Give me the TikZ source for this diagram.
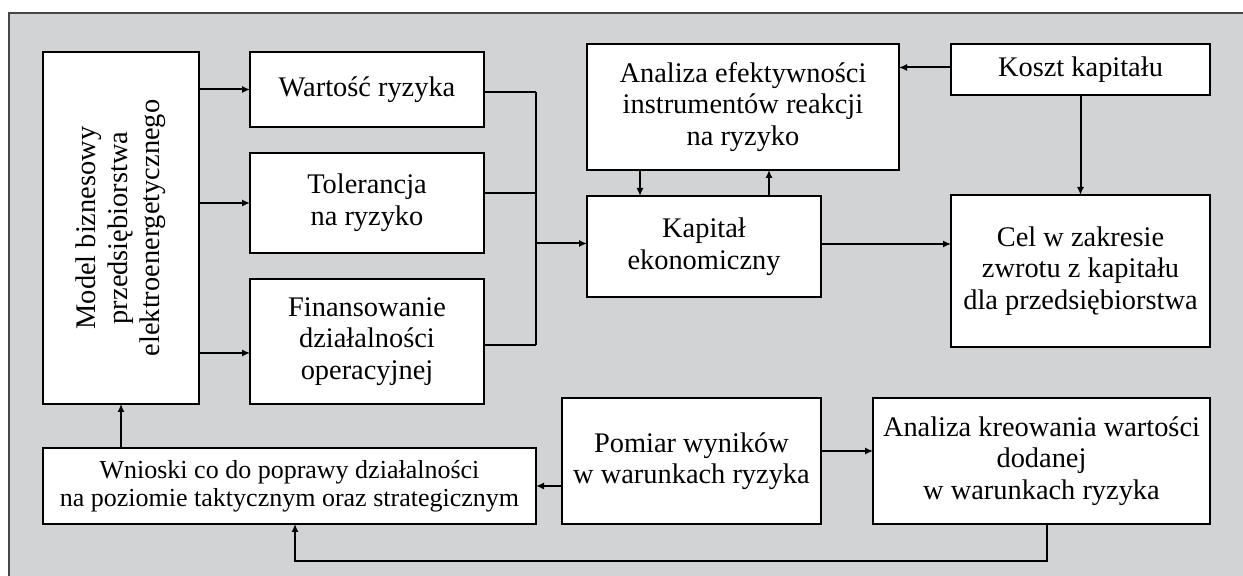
\documentclass[tikz,border=0pt]{standalone}
\usepackage{fontspec}
\setmainfont{Liberation Serif}
\usetikzlibrary{arrows.meta,calc}
\definecolor{panel}{RGB}{209,211,212}
\definecolor{frameline}{RGB}{70,70,70}
\tikzset{
  box/.style={draw=black, line width=1pt, fill=white, inner sep=0pt, outer sep=0pt,
    align=center, font=\fontsize{14.2pt}{15.8pt}\selectfont},
  smallbox/.style={box, font=\fontsize{13pt}{14pt}\selectfont},
  link/.style={line width=1pt, draw=black},
  arr/.style={link, -{Latex[length=4pt,width=3.6pt]}},
}
\begin{document}
\begin{tikzpicture}[x=0.5pt, y=-0.5pt]
\useasboundingbox (0,0) rectangle (1243,576);
\begin{scope}
  \clip (0,0) rectangle (1243,576);
  \draw[frameline, fill=panel, line width=0.8pt] (9,13) rectangle (1260,600);
\end{scope}

% left column
\node[box, minimum width=78pt, minimum height=176pt] (model) at (121,228) {};
\node[rotate=90, align=center, font=\fontsize{14.2pt}{16pt}\selectfont] (modeltxt) at (model.center)
  {Model biznesowy\\przedsiębiorstwa\\elektroenergetycznego};

% risk inputs
\node[box, minimum width=117pt, minimum height=37.5pt] (wartosc) at (367,89.5) {Wartość ryzyka};
\node[box, minimum width=117pt, minimum height=50pt] (tolerancja) at (367,203) {Tolerancja\\na ryzyko};
\node[box, minimum width=117pt, minimum height=62.5pt] (finans) at (367,341.5) {Finansowanie\\działalności\\operacyjnej};

% capital block
\node[box, minimum width=156pt, minimum height=63pt] (analiza) at (743,107) {Analiza efektywności\\instrumentów reakcji\\na ryzyko};
\node[box, minimum width=129.5pt, minimum height=25.5pt] (koszt) at (1080.5,69.5) {Koszt kapitału};
\node[box, minimum width=117pt, minimum height=50.5pt] (kapital) at (704,246.5) {Kapitał\\ekonomiczny};
\node[box, minimum width=129.5pt, minimum height=76pt] (cel) at (1080.5,271) {Cel w zakresie\\zwrotu z kapitału\\dla przedsiębiorstwa};

% bottom row
\node[smallbox, minimum width=246.5pt, minimum height=38pt] (wnioski) at (289.5,486) {Wnioski co do poprawy działalności\\na poziomie taktycznym oraz strategicznym};
\node[box, minimum width=129.5pt, minimum height=63pt] (pomiar) at (691.5,461) {Pomiar wyników\\w warunkach ryzyka};
\node[box, minimum width=168.5pt, minimum height=63pt] (kreow) at (1041.5,461) {Analiza kreowania wartości\\dodanej\\w warunkach ryzyka};

% connector anchor points
\coordinate (fin) at ($(finans.west)+(0,11.5)$);
\coordinate (bus) at (536,0);
\coordinate (wout) at ($(wartosc.east)+(0,3)$);
\coordinate (tout) at ($(tolerancja.east)+(0,-10)$);
\coordinate (fout) at ($(finans.east)+(0,3.5)$);
\coordinate (kin) at ($(kapital.west)+(0,-3)$);
\coordinate (kout) at ($(kapital.east)+(0,-2.5)$);
\coordinate (kst) at ($(koszt.west)+(0,-2)$);
\coordinate (down) at (640,0);
\coordinate (up) at (769,0);
\coordinate (pout) at ($(pomiar.east)+(0,-10)$);
\coordinate (fbr) at ($(kreow.south)+(5.5,0)$);
\coordinate (fbl) at ($(wnioski.south)+(5.5,0)$);

% model -> inputs
\draw[arr] (model.east |- wartosc.west) -- (wartosc.west);
\draw[arr] (model.east |- tolerancja.west) -- (tolerancja.west);
\draw[arr] (model.east |- fin) -- (fin);

% collecting bus into economic capital
\draw[link] (wout) -- (wout -| bus);
\draw[link] (tout) -- (tout -| bus);
\draw[link] (fout) -- (fout -| bus);
\draw[link] (wout -| bus) -- (fout -| bus);
\draw[arr] (kin -| bus) -- (kin);

% analysis <-> capital
\draw[arr] (analiza.south -| down) -- (kapital.north -| down);
\draw[arr] (kapital.north -| up) -- (analiza.south -| up);

% cost of capital
\draw[arr] (kst) -- (kst -| analiza.east);
\draw[arr] (koszt.south) -- (cel.north);
\draw[arr] (kout) -- (kout -| cel.west);

% bottom flows
\draw[arr] (pout) -- (pout -| kreow.west);
\draw[arr] (pomiar.west |- wnioski.east) -- (wnioski.east);
\draw[arr] (fbr) -- ++(0,37) -| (fbl);
\draw[arr] (wnioski.north -| model.south) -- (model.south);
\end{tikzpicture}
\end{document}
